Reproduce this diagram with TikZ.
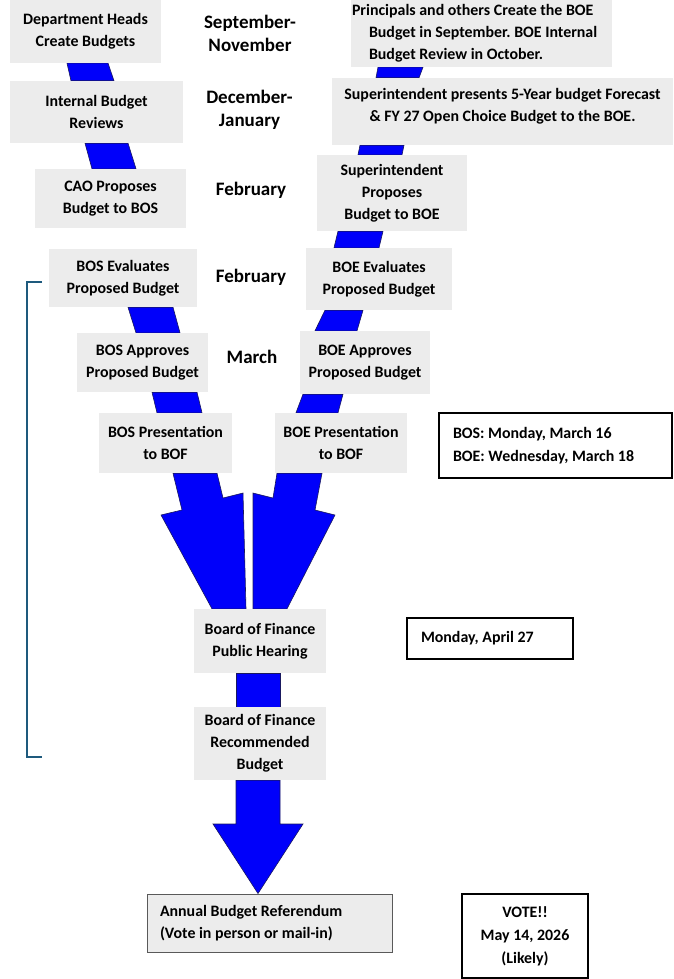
\documentclass[tikz,border=0pt]{standalone}
\usepackage{fontspec}
\setmainfont{Carlito}
\frenchspacing
\usetikzlibrary{shapes,arrows,backgrounds}

\definecolor{boxgray}{RGB}{236,236,236}
\definecolor{flowblue}{RGB}{0,0,250}
\definecolor{flowedge}{RGB}{25,25,95}
\definecolor{bracketblue}{RGB}{30,90,125}

\begin{document}
\begin{tikzpicture}[x=1pt, y=-1pt]
    % Define block styles
    \tikzstyle{block} = [rectangle, fill=boxgray, inner sep=0pt, align=center, font=\fontsize{15.9}{22}\selectfont\bfseries]
    \tikzstyle{month} = [inner sep=0pt, align=center, font=\fontsize{19}{22.5}\selectfont\bfseries]
    \tikzstyle{datebox} = [rectangle, draw=black, line width=1.2pt, fill=white, inner sep=0pt, align=flush left, font=\fontsize{15.9}{23}\selectfont\bfseries]
    \tikzstyle{band} = [fill=flowblue, draw=flowedge, line width=0.6pt, line join=miter]

    \useasboundingbox (0,0) rectangle (673,979);

    % Nodes - BOS side
    \node [block, minimum width=151pt, minimum height=63pt] (Dept_Heads) at (85.5,31.5) {Department Heads\\Create Budgets};
    \node [block, minimum width=173pt, minimum height=62pt] (Internal_Review) at (96.5,112) {Internal Budget\\Reviews};
    \node [block, minimum width=151pt, minimum height=59pt] (CAO_Proposes) at (110.5,198.5) {CAO Proposes\\Budget to BOS};
    \node [block, minimum width=148pt, minimum height=58pt] (BOS_Evaluates) at (123,278) {BOS Evaluates\\Proposed Budget};
    \node [block, minimum width=131pt, minimum height=59pt] (BOS_Approves) at (142.5,362.5) {BOS Approves\\Proposed Budget};
    \node [block, minimum width=133pt, minimum height=60pt] (BOS_Presentation) at (165.5,443) {BOS Presentation\\to BOF};

    % Nodes - months
    \node [month] (Sept_Nov) at (250,33.5) {September-\\November};
    \node [month] (Dec_Jan) at (249.5,110) {December-\\January};
    \node [month] (Feb_CAO) at (251,190) {February};
    \node [month] (Feb_Evaluate) at (251,277) {February};
    \node [month] (March_Approve) at (252,357) {March};

    % Nodes - BOE side
    \node [block, align=flush left, text width=259pt, inner xsep=1pt, minimum height=67pt] (BOE_Create) at (481.5,33.5) {Principals and others Create the BOE\\\hspace*{17pt}Budget in September. BOE Internal\\\hspace*{17pt}Budget Review in October.};
    \node [block, minimum width=341pt, minimum height=67pt, text depth=14pt] (Super_Presents) at (502.5,111.5) {Superintendent presents 5-Year budget Forecast\\\& FY 27 Open Choice Budget to the BOE.};
    \node [block, minimum width=150pt, minimum height=76pt] (Super_Proposes) at (392,193) {Superintendent\\Proposes\\Budget to BOE};
    \node [block, minimum width=146pt, minimum height=62pt] (BOE_Evaluates) at (379,279) {BOE Evaluates\\Proposed Budget};
    \node [block, minimum width=130pt, minimum height=63pt] (BOE_Approves) at (365,362.5) {BOE Approves\\Proposed Budget};
    \node [block, minimum width=132pt, minimum height=60pt] (BOE_Presentation) at (341,443) {BOE Presentation\\to BOF};
    \node [datebox, text width=205pt, inner xsep=14pt, minimum height=65pt] (Presentation_Dates) at (555.5,445.5) {BOS: Monday, March 16\\BOE: Wednesday, March 18};

    % Nodes - Board of Finance and vote
    \node [block, minimum width=132pt, minimum height=64pt] (BOF_Hearing) at (260,641) {Board of Finance\\Public Hearing};
    \node [datebox, text width=138pt, inner xsep=14pt, minimum height=41pt] (Hearing_Date) at (490,638.5) {Monday, April 27};
    \node [block, minimum width=132pt, minimum height=73pt] (BOF_Recommended) at (260,743.5) {Board of Finance\\Recommended\\Budget};
    \node [block, draw=black!65, line width=1pt, align=flush left, text width=219pt, inner xsep=13pt, minimum height=58pt] (Referendum) at (269.5,923) {Annual Budget Referendum\\(Vote in person or mail-in)};
    \node [datebox, align=center, minimum width=126pt, minimum height=84pt] (Vote_Date) at (525,936) {VOTE!!\\May 14, 2026\\(Likely)};

    % Bracket
    \draw [bracketblue, line width=2pt] (42,282) -- (27,282) -- (27,757) -- (42,757);

    % Arrows
    \begin{scope}[on background layer]
    \path [band] (67,0 |- Dept_Heads.south) -- (108,0 |- Dept_Heads.south) -- (114,0 |- Internal_Review.north) -- (71,0 |- Internal_Review.north) -- cycle;
    \path [band] (85,0 |- Internal_Review.south) -- (128,0 |- Internal_Review.south) -- (136,0 |- CAO_Proposes.north) -- (92,0 |- CAO_Proposes.north) -- cycle;
    \path [band] (128,0 |- BOS_Evaluates.south) -- (173,0 |- BOS_Evaluates.south) -- (180,0 |- BOS_Approves.north) -- (136,0 |- BOS_Approves.north) -- cycle;
    \path [band] (152,0 |- BOS_Approves.south) -- (197,0 |- BOS_Approves.south) -- (202,0 |- BOS_Presentation.north) -- (157,0 |- BOS_Presentation.north) -- cycle;
    \path [band] (378,0 |- BOE_Create.south) -- (423,0 |- BOE_Create.south) -- (419,0 |- Super_Presents.north) -- (376,0 |- Super_Presents.north) -- cycle;
    \path [band] (360,0 |- Super_Presents.south) -- (404,0 |- Super_Presents.south) -- (402,0 |- Super_Proposes.north) -- (358,0 |- Super_Proposes.north) -- cycle;
    \path [band] (338,0 |- Super_Proposes.south) -- (383,0 |- Super_Proposes.south) -- (379,0 |- BOE_Evaluates.north) -- (334,0 |- BOE_Evaluates.north) -- cycle;
    \path [band] (325,0 |- BOE_Evaluates.south) -- (363,0 |- BOE_Evaluates.south) -- (357,0 |- BOE_Approves.north) -- (315,0 |- BOE_Approves.north) -- cycle;
    \path [band] (303,0 |- BOE_Approves.south) -- (343,0 |- BOE_Approves.south) -- (338,0 |- BOE_Presentation.north) -- (296,0 |- BOE_Presentation.north) -- cycle;
    % merging arrows
    \path [band] (173,0 |- BOS_Presentation.south) -- (182,510) -- (161,515) -- (212,0 |- BOF_Hearing.north) -- (246,0 |- BOF_Hearing.north) -- (243,493) -- (223,498) -- (217,0 |- BOS_Presentation.south) -- cycle;
    \path [band] (277,0 |- BOE_Presentation.south) -- (273,498) -- (253,493) -- (253,0 |- BOF_Hearing.north) -- (287,0 |- BOF_Hearing.north) -- (335,515) -- (315,510) -- (322,0 |- BOE_Presentation.south) -- cycle;
    \path [band] (236,0 |- BOF_Hearing.south) rectangle (280,0 |- BOF_Recommended.north);
    \path [band] (236,0 |- BOF_Recommended.south) -- (236,824) -- (213,824) -- (258,0 |- Referendum.north) -- (303,824) -- (280,824) -- (280,0 |- BOF_Recommended.south) -- cycle;
    \end{scope}

  \end{tikzpicture}
\end{document}
